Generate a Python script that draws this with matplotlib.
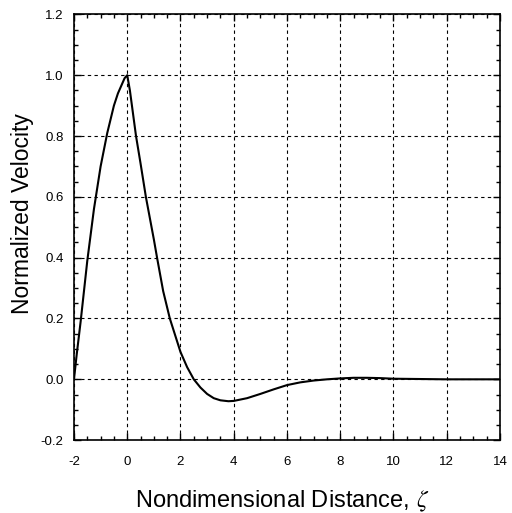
#!/usr/bin/env python3
"""Normalized velocity profile vs nondimensional distance."""

import matplotlib

matplotlib.use("Agg")
import matplotlib.pyplot as plt
from matplotlib.ticker import MultipleLocator, FormatStrFormatter

plt.rcParams["font.family"] = ["Liberation Sans", "DejaVu Sans"]
plt.rcParams["axes.unicode_minus"] = False
plt.rcParams["mathtext.fontset"] = "stix"

# curve
zeta = [-2.0, -1.9, -1.75, -1.6, -1.5, -1.25, -1.0, -0.75, -0.5, -0.35, -0.2, -0.1, 0.0,
        0.1, 0.33, 0.5, 0.7, 1.0, 1.12, 1.35, 1.6, 2.0, 2.25, 2.5, 2.75,
        3.0, 3.25, 3.5, 3.8, 4.0, 4.5, 5.0, 5.5, 6.0, 6.5, 7.0, 7.5,
        8.0, 8.5, 9.0, 9.5, 10.0, 11.0, 12.0, 13.0, 14.0]
velocity = [0.0, 0.08, 0.19, 0.31, 0.39, 0.56, 0.70, 0.81, 0.90, 0.94, 0.97, 0.99, 1.0,
            0.95, 0.80, 0.71, 0.60, 0.46, 0.40, 0.29, 0.20, 0.09, 0.04, 0.0, -0.027,
            -0.048, -0.062, -0.069, -0.072, -0.071, -0.062, -0.048, -0.033, -0.019, -0.010, -0.004, 0.0,
            0.003, 0.005, 0.005, 0.004, 0.002, 0.001, 0.0, 0.0, 0.0]

fig = plt.figure(figsize=(5.12, 5.13), dpi=100)
ax = fig.add_axes([0.1445, 0.142, 0.832, 0.83])

ax.plot(zeta, velocity, color="black", linewidth=1.5, zorder=3)

ax.set_xlim(-2, 14)
ax.set_ylim(-0.2, 1.2)
ax.xaxis.set_major_locator(MultipleLocator(2))
ax.xaxis.set_minor_locator(MultipleLocator(0.5))
ax.yaxis.set_major_locator(MultipleLocator(0.2))
ax.yaxis.set_minor_locator(MultipleLocator(0.05))
ax.yaxis.set_major_formatter(FormatStrFormatter("%.1f"))

ax.tick_params(which="both", direction="in", top=True, right=True,
               labelsize=9.5, width=1, color="black")
ax.tick_params(which="major", length=5, pad=7.5)
ax.tick_params(which="minor", length=3)
ax.tick_params(axis="x", which="major", pad=11.5)

ax.grid(True, which="major", color="black", linestyle=(0, (3, 3)), linewidth=0.8)
for s in ax.spines.values():
    s.set_linewidth(1.2)

ax.set_xlabel(r"Nondimensional Distance, $\zeta$", fontsize=17)
ax.set_ylabel("Normalized Velocity", fontsize=16.5)
ax.xaxis.set_label_coords(0.489, -0.115)
ax.yaxis.set_label_coords(-0.094, 0.533)

fig.savefig("out.png", dpi=100)
